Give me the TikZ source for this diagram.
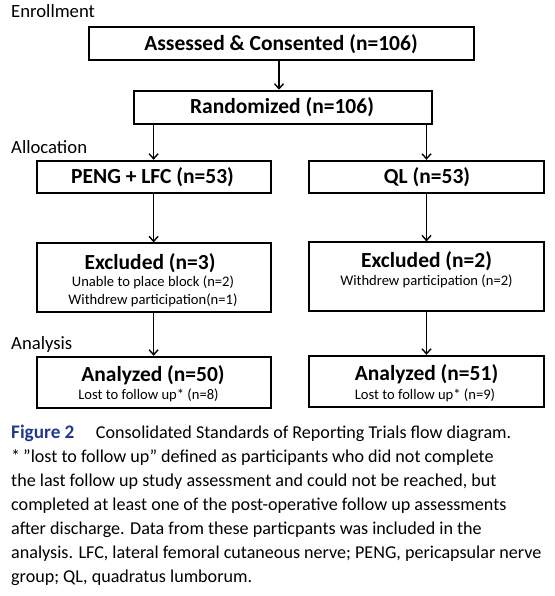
\documentclass[tikz,border=0pt]{standalone}
\usepackage{fontspec}
\setmainfont{Carlito}
\usetikzlibrary{arrows.meta,calc}
\definecolor{figblue}{RGB}{35,58,140}
\newcommand{\sq}{\char"0022\relax}
\begin{document}
\begin{tikzpicture}[x=1pt,y=-1pt,
  box/.style={draw=black,line width=1.8pt,minimum height=#1,inner sep=0pt},
  hd/.style={font=\fontsize{21.5}{24}\selectfont\bfseries,inner sep=0pt},
  sm/.style={font=\fontsize{14.6}{17.7}\selectfont,align=center,inner sep=0pt},
  sec/.style={font=\fontsize{18.7}{20}\selectfont,anchor=west,inner sep=0pt},
  arr/.style={line width=1.4pt,-{Straight Barb[length=5pt,width=9pt,line width=1.4pt]}}]
\useasboundingbox (0,0) rectangle (554,596);
\node[sec] (enr) at (11,11) {Enrollment};
\node[sec] (alloc) at (11,146.7) {Allocation};
\node[sec] (anal) at (11,345) {Analysis};
\node[box=32.7pt,minimum width=385pt] (b1) at (281.8,43.7) {};
\node[box=33.3pt,minimum width=298pt] (b2) at (283,107.3) {};
\node[box=32.6pt,minimum width=234pt] (b3) at (153.6,177) {};
\node[box=32.6pt,minimum width=234.4pt] (b4) at (426.5,177) {};
\node[box=68.4pt,minimum width=234pt] (b5) at (153.6,277.5) {};
\node[box=68.7pt,minimum width=234.4pt] (b6) at (426.5,276.7) {};
\node[box=51.6pt,minimum width=234pt] (b7) at (153.6,382.5) {};
\node[box=51.6pt,minimum width=234.4pt] (b8) at (426.5,381.5) {};
\node[hd] (t1) at (281,43.7) {Assessed \& Consented (n=106)};
\node[hd] (t2) at (282,107.3) {Randomized (n=106)};
\node[hd] (t3) at (152.5,177) {PENG + LFC (n=53)};
\node[hd] (t4) at (427,177) {QL (n=53)};
\node[hd] (t5) at (150,263.3) {Excluded (n=3)};
\node[sm] (s5) at (153,291.2) {Unable to place block (n=2)\\Withdrew participation(n=1)};
\node[hd] (t6) at (426.5,261) {Excluded (n=2)};
\node[sm] (s6) at (426.5,281) {Withdrew participation (n=2)};
\node[hd] (t7) at (153,375) {Analyzed (n=50)};
\node[sm] (s7) at (148.5,395) {Lost to follow up* (n=8)};
\node[hd] (t8) at (426.5,374) {Analyzed (n=51)};
\node[sm] (s8) at (425,395) {Lost to follow up* (n=9)};
\draw[arr] ($(b1.south)+(-2.8,0)$) -- ($(b1.south |- b2.north)+(-2.8,0)$);
\draw[arr] (b2.south -| b3.north) -- (b3.north);
\draw[arr] (b2.south -| b4.north) -- (b4.north);
\draw[arr] (b3) -- (b5);
\draw[arr] (b4) -- (b6);
\draw[arr] (b5) -- (b7);
\draw[arr] (b6) -- (b8);
\node[anchor=north west,inner sep=0pt,align=left,font=\fontsize{18.1}{23.9}\selectfont] (cap) at (11,425)
{{\color{figblue}\fontsize{19.2}{23.9}\selectfont\bfseries Figure 2}\hspace{21.5pt}Consolidated Standards of Reporting Trials flow diagram.\\
*\,\sq lost to follow up\sq{} defined as participants who did not complete\\
the last follow up study assessment and could not be reached, but\\
completed at least one of the post-operative follow up assessments\\
after discharge. Data from these particpants was included in the\\
analysis. LFC, lateral femoral cutaneous nerve; PENG, pericapsular nerve\\
group; QL, quadratus lumborum.};
\end{tikzpicture}
\end{document}
